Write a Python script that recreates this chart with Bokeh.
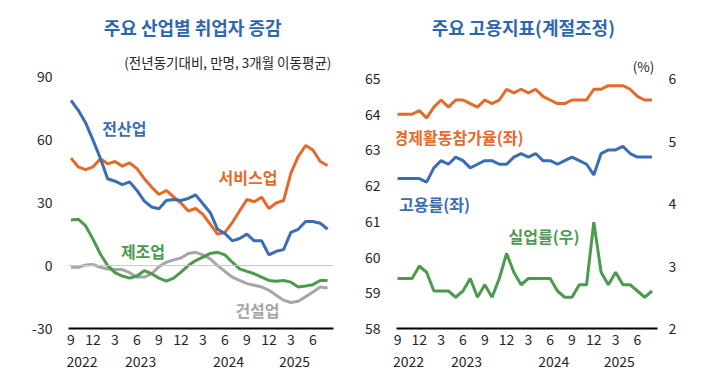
from bokeh.plotting import figure
from bokeh.models import LinearAxis, Range1d, FixedTicker, Span, Label
from bokeh.layouts import row
from bokeh.embed import file_html
from bokeh.resources import INLINE

FONT = "Noto Sans CJK KR"

months = ["2022-09", "2022-10", "2022-11", "2022-12", "2023-01", "2023-02", "2023-03", "2023-04",
          "2023-05", "2023-06", "2023-07", "2023-08", "2023-09", "2023-10", "2023-11", "2023-12",
          "2024-01", "2024-02", "2024-03", "2024-04", "2024-05", "2024-06", "2024-07", "2024-08",
          "2024-09", "2024-10", "2024-11", "2024-12", "2025-01", "2025-02", "2025-03", "2025-04",
          "2025-05", "2025-06", "2025-07", "2025-08"]
x = list(range(len(months)))

tick_pos = [0, 3, 6, 9, 12, 15, 18, 21, 24, 27, 30, 33]
tick_labels = ["9", "12", "3", "6", "9", "12", "3", "6", "9", "12", "3", "6"]
year_pos = [1.5, 9.5, 21.5, 30.5]
year_labels = ["2022", "2023", "2024", "2025"]

# left panel: 주요 산업별 취업자 증감 (만명)
all_industry = [78.7, 74.0, 68.0, 59.8, 51.2, 41.4, 40.2, 38.6, 39.9, 35.8, 30.7, 27.9,
                27.1, 31.0, 31.5, 31.0, 32.0, 33.7, 29.5, 25.2, 17.3, 15.3, 11.8, 12.9,
                15.0, 11.8, 11.8, 5.1, 6.8, 7.6, 15.8, 17.3, 21.0, 21.0, 20.2, 17.3]
services = [51.2, 47.0, 45.7, 47.0, 50.9, 48.5, 49.6, 47.4, 48.9, 46.2, 41.4, 37.4,
            33.9, 35.8, 32.7, 29.8, 26.0, 27.2, 24.4, 19.7, 15.0, 15.8, 20.5, 26.0,
            31.5, 30.4, 32.6, 27.2, 29.9, 31.0, 44.1, 52.0, 57.2, 55.1, 49.6, 47.7]
manufacturing = [21.7, 22.1, 18.9, 12.6, 5.5, 0.0, -3.4, -5.0, -6.0, -5.0, -2.4, -3.9,
                 -6.0, -7.4, -6.0, -3.1, 0.0, 2.4, 4.0, 5.8, 6.3, 5.1, 1.6, -1.6,
                 -2.8, -3.9, -5.5, -7.1, -7.5, -7.1, -7.9, -10.2, -9.7, -9.1, -7.1, -7.1]
construction = [-0.8, -0.8, 0.3, 0.5, -0.8, -1.6, -1.9, -1.9, -3.4, -5.5, -5.5, -3.9,
                -0.5, 1.6, 2.7, 3.6, 5.8, 6.3, 5.1, 3.2, 0.0, -2.8, -5.5, -7.1,
                -8.6, -9.4, -10.2, -11.8, -14.2, -16.5, -17.6, -17.0, -14.9, -12.6, -10.2, -10.7]
left_ticks = [-30, 0, 30, 60, 90]
left_tick_labels = ["-30", "0", "30", "60", "90"]

# right panel: 주요 고용지표 (계절조정, %)
part_rate = [64.0, 64.0, 64.0, 64.1, 63.9, 64.2, 64.4, 64.2, 64.4, 64.4, 64.3, 64.2,
             64.4, 64.3, 64.4, 64.7, 64.6, 64.7, 64.6, 64.7, 64.5, 64.4, 64.3, 64.3,
             64.4, 64.4, 64.4, 64.7, 64.7, 64.8, 64.8, 64.8, 64.7, 64.5, 64.4, 64.4]
emp_rate = [62.2, 62.2, 62.2, 62.2, 62.1, 62.5, 62.7, 62.6, 62.8, 62.7, 62.5, 62.6,
            62.7, 62.7, 62.6, 62.6, 62.8, 62.9, 62.8, 62.9, 62.7, 62.7, 62.6, 62.7,
            62.8, 62.7, 62.6, 62.3, 62.9, 63.0, 63.0, 63.1, 62.9, 62.8, 62.8, 62.8]
unemp_rate = [2.8, 2.8, 2.8, 3.0, 2.9, 2.6, 2.6, 2.6, 2.5, 2.6, 2.8, 2.5,
              2.7, 2.5, 2.8, 3.2, 2.9, 2.7, 2.8, 2.8, 2.8, 2.8, 2.6, 2.5,
              2.5, 2.7, 2.7, 3.7, 2.9, 2.7, 2.9, 2.7, 2.7, 2.6, 2.5, 2.6]
right_left_ticks = [58, 59, 60, 61, 62, 63, 64, 65]
right_right_ticks = [2, 3, 4, 5, 6]

BLUE = "#3A6DB3"
ORANGE = "#E4692B"
GREEN = "#4C9A4E"
GRAY = "#A6A6A6"
TITLE = "#2F67AE"
TXT = "#262626"


def make_fig(width, xr, yr, mbl, mbr, mbb):
    p = figure(width=width, height=378, x_range=xr, y_range=yr,
               output_backend="svg", toolbar_location=None,
               x_axis_type=None, y_axis_type=None,
               min_border_left=mbl, min_border_right=mbr,
               min_border_top=2, min_border_bottom=mbb)
    p.outline_line_color = None
    p.xgrid.visible = False
    p.ygrid.visible = False
    p.background_fill_color = "white"
    p.border_fill_color = "white"
    return p


def style_axis(ax, standoff):
    ax.major_tick_line_color = None
    ax.minor_tick_line_color = None
    ax.major_tick_out = 0
    ax.major_tick_in = 0
    ax.minor_tick_out = 0
    ax.minor_tick_in = 0
    ax.major_label_standoff = standoff
    ax.major_label_text_font = FONT
    ax.major_label_text_font_size = "14px"
    ax.major_label_text_color = TXT


def add_x_axes(p):
    ax = LinearAxis(ticker=FixedTicker(ticks=tick_pos),
                    major_label_overrides={t: l for t, l in zip(tick_pos, tick_labels)})
    style_axis(ax, 5)
    ax.axis_line_color = "black"
    ax.axis_line_width = 2
    p.add_layout(ax, "below")
    ay = LinearAxis(ticker=FixedTicker(ticks=year_pos),
                    major_label_overrides={t: l for t, l in zip(year_pos, year_labels)})
    style_axis(ay, 8)
    ay.axis_line_color = None
    p.add_layout(ay, "below")


def lab(p, xx, yy, text, color, size="16px", bold=True, align="center", **kw):
    p.add_layout(Label(x=xx, y=yy, text=text, text_align=align, text_baseline="middle",
                       text_font=FONT, text_font_size=size, text_color=color,
                       text_font_style="bold" if bold else "normal", **kw))


# ---------- left figure (page x 0..350) ----------
p1 = make_fig(350, Range1d(-0.34, 35.81), Range1d(-30, 125.4), 68, 17, 47)
add_x_axes(p1)
yl = LinearAxis(ticker=FixedTicker(ticks=left_ticks),
                major_label_overrides={t: l for t, l in zip(left_ticks, left_tick_labels)})
style_axis(yl, 16)
yl.axis_line_color = None
p1.add_layout(yl, "left")
p1.add_layout(Span(location=0, dimension="width", line_color="#C8C8C8", line_width=1))

p1.line(x, construction, line_color=GRAY, line_width=3)
p1.line(x, manufacturing, line_color=GREEN, line_width=3)
p1.line(x, services, line_color=ORANGE, line_width=3)
p1.line(x, all_industry, line_color=BLUE, line_width=3)

lab(p1, 16.6, 113.6, "주요 산업별 취업자 증감", TITLE, size="18px")
lab(p1, 21.6, 97.1, "(전년동기대비,  만명, 3개월 이동평균)", TXT, size="13.5px", bold=False)
lab(p1, 7.29, 65.4, "전산업", BLUE)
lab(p1, 24.15, 42.4, "서비스업", ORANGE)
lab(p1, 9.82, 6.9, "제조업", GREEN)
lab(p1, 25.44, -21.4, "건설업", GRAY)

# ---------- right figure (page x 350..707) ----------
p2 = make_fig(357, Range1d(-0.14, 35.76), Range1d(58, 67.13), 46, 50, 50)
p2.extra_y_ranges = {"pct": Range1d(2, 7.216)}
add_x_axes(p2)
yl2 = LinearAxis(ticker=FixedTicker(ticks=right_left_ticks))
style_axis(yl2, 16)
yl2.axis_line_color = None
p2.add_layout(yl2, "left")
yr2 = LinearAxis(y_range_name="pct", ticker=FixedTicker(ticks=right_right_ticks))
style_axis(yr2, 11)
yr2.axis_line_color = None
p2.add_layout(yr2, "right")

p2.line(x, part_rate, line_color=ORANGE, line_width=3)
p2.line(x, emp_rate, line_color=BLUE, line_width=3)
p2.line(x, unemp_rate, line_color=GREEN, line_width=3, y_range_name="pct")

lab(p2, 17.3, 66.43, "주요 고용지표(계절조정)", TITLE, size="18px")
lab(p2, 33.84, 65.34, "(%)", TXT, size="13.5px", bold=False)
lab(p2, 8.39, 63.35, "경제활동참가율(좌)", ORANGE)
lab(p2, 5.09, 61.5, "고용률(좌)", BLUE)
lab(p2, 20.15, 60.58, "실업률(우)", GREEN)

layout = row(p1, p2)
open("out.html", "w").write(file_html(layout, INLINE))
